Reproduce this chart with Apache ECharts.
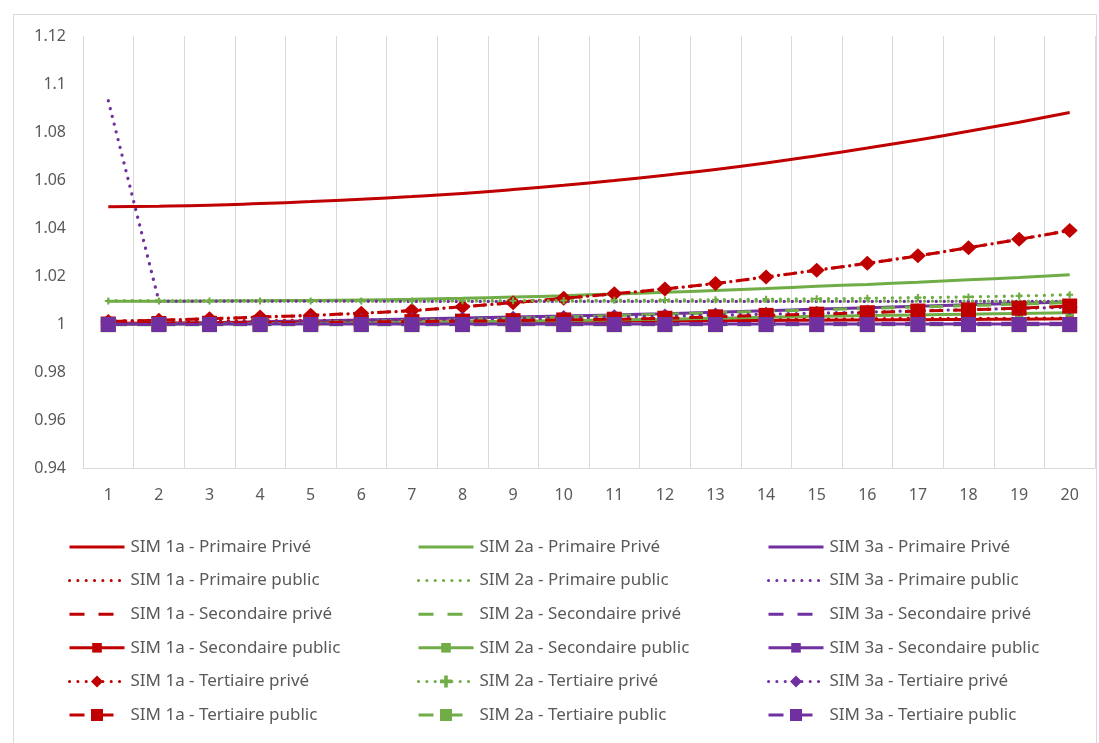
<!DOCTYPE html>
<html><head><meta charset="utf-8">
<script src="https://cdn.jsdelivr.net/npm/echarts@6/dist/echarts.min.js"></script>
<style>html,body{margin:0;padding:0;background:#fff}#c{width:1099px;height:743px}</style>
</head><body><div id="c"></div>
<script>
const categories = ['1','2','3','4','5','6','7','8','9','10','11','12','13','14','15','16','17','18','19','20'];
const yTicks = { min: 0.94, max: 1.12, interval: 0.02 };

// SIM 1a
const sim1aPrimPrive   = [1.0489,1.0491,1.0495,1.0502,1.0510,1.0520,1.0531,1.0544,1.0560,1.0578,1.0598,1.0620,1.0644,1.0671,1.0701,1.0733,1.0767,1.0803,1.0841,1.0881];
const sim1aPrimPublic  = [1.0012,1.0013,1.0013,1.0014,1.0015,1.0015,1.0016,1.0017,1.0017,1.0018,1.0019,1.0019,1.0020,1.0021,1.0021,1.0022,1.0023,1.0023,1.0024,1.0025];
const sim1aSecPrive    = [1.0010,1.0016,1.0022,1.0029,1.0036,1.0045,1.0056,1.0072,1.0089,1.0107,1.0126,1.0146,1.0169,1.0196,1.0224,1.0253,1.0284,1.0318,1.0353,1.0390];
const sim1aSecPublic   = [1.0003,1.0004,1.0005,1.0006,1.0006,1.0007,1.0008,1.0009,1.0010,1.0011,1.0012,1.0013,1.0014,1.0015,1.0016,1.0017,1.0018,1.0019,1.0020,1.0022];
const sim1aTertPrive   = [1.0010,1.0016,1.0022,1.0029,1.0036,1.0045,1.0056,1.0072,1.0089,1.0107,1.0126,1.0146,1.0169,1.0196,1.0224,1.0253,1.0284,1.0318,1.0353,1.0390];
const sim1aTertPublic  = [1.0000,1.0002,1.0003,1.0005,1.0006,1.0008,1.0010,1.0012,1.0014,1.0017,1.0020,1.0024,1.0030,1.0036,1.0041,1.0047,1.0054,1.0059,1.0066,1.0075];
// SIM 2a
const sim2aPrimPrive   = [1.0095,1.0095,1.0096,1.0097,1.0098,1.0100,1.0103,1.0107,1.0112,1.0118,1.0125,1.0132,1.0140,1.0148,1.0157,1.0165,1.0174,1.0184,1.0194,1.0205];
const sim2aPrimPublic  = [1.0096,1.0096,1.0096,1.0096,1.0096,1.0096,1.0096,1.0096,1.0095,1.0095,1.0095,1.0095,1.0095,1.0095,1.0095,1.0095,1.0095,1.0095,1.0095,1.0095];
const sim2aSecPrive    = [1.0000,1.0001,1.0003,1.0005,1.0008,1.0011,1.0015,1.0019,1.0024,1.0029,1.0035,1.0041,1.0047,1.0053,1.0059,1.0065,1.0071,1.0077,1.0083,1.0089];
const sim2aSecPublic   = [0.9999,1.0000,1.0001,1.0002,1.0003,1.0005,1.0007,1.0009,1.0011,1.0014,1.0017,1.0020,1.0024,1.0028,1.0032,1.0035,1.0038,1.0041,1.0044,1.0047];
const sim2aTertPrive   = [1.0096,1.0096,1.0096,1.0096,1.0096,1.0096,1.0096,1.0097,1.0097,1.0098,1.0099,1.0100,1.0101,1.0103,1.0105,1.0107,1.0110,1.0113,1.0117,1.0122];
const sim2aTertPublic  = [0.9997,0.9997,0.9997,0.9997,0.9997,0.9997,0.9997,0.9997,0.9997,0.9997,0.9997,0.9997,0.9997,0.9997,0.9997,0.9997,0.9997,0.9997,0.9997,0.9997];
// SIM 3a
const sim3aPrimPrive   = [0.9998,1.0002,1.0005,1.0009,1.0013,1.0017,1.0021,1.0025,1.0029,1.0033,1.0038,1.0043,1.0049,1.0055,1.0062,1.0068,1.0074,1.0080,1.0086,1.0092];
const sim3aPrimPublic  = [1.0930,1.0095,1.0095,1.0095,1.0095,1.0095,1.0094,1.0094,1.0094,1.0094,1.0094,1.0094,1.0094,1.0094,1.0094,1.0094,1.0094,1.0094,1.0094,1.0094];
const sim3aSecPrive    = [1.0003,1.0003,1.0003,1.0003,1.0003,1.0003,1.0003,1.0003,1.0003,1.0003,1.0003,1.0003,1.0003,1.0003,1.0003,1.0003,1.0003,1.0003,1.0003,1.0003];
const sim3aSecPublic   = [1.0000,1.0000,1.0000,1.0000,1.0000,1.0000,1.0000,1.0000,1.0000,1.0000,1.0000,1.0000,1.0000,1.0000,1.0000,1.0000,1.0000,1.0000,1.0000,1.0000];
const sim3aTertPrive   = [1.0000,1.0003,1.0006,1.0009,1.0012,1.0015,1.0018,1.0021,1.0024,1.0027,1.0030,1.0033,1.0037,1.0041,1.0045,1.0050,1.0055,1.0060,1.0065,1.0070];
const sim3aTertPublic  = [0.9998,0.9998,0.9998,0.9998,0.9998,0.9998,0.9998,0.9998,0.9998,0.9998,0.9998,0.9998,0.9998,0.9998,0.9998,0.9998,0.9998,0.9998,0.9998,0.9998];

const RED = '#C00000', GREEN = '#70AD47', PURPLE = '#7030A0';
const TXT = '#595959', GRID = '#d9d9d9', FONT = '"Noto Sans", sans-serif';

const PLUS = 'path://M3.5,0 h3 v3.5 h3.5 v3 h-3.5 v3.5 h-3 v-3.5 h-3.5 v-3 h3.5 z';
const SMALLSQ = 'path://M0,0 M12,12 M1.2,1.2 h9.6 v9.6 h-9.6 z';

const LINES = {
  solid:  { type: 'solid' },
  dotted: { type: [0.1, 7.9], cap: 'round', dashOffset: 0 },
  dashed: { type: [14, 10], cap: 'butt', dashOffset: 19 }
};

// [name, data, color, line kind, symbol, size]
const defs = [
  ['SIM 1a - Primaire Privé', sim1aPrimPrive, RED, 'solid', 'none', 0],
  ['SIM 2a - Primaire Privé', sim2aPrimPrive, GREEN, 'solid', 'none', 0],
  ['SIM 3a - Primaire Privé', sim3aPrimPrive, PURPLE, 'solid', 'none', 0],
  ['SIM 1a - Primaire public', sim1aPrimPublic, RED, 'dotted', 'none', 0],
  ['SIM 2a - Primaire public', sim2aPrimPublic, GREEN, 'dotted', 'none', 0],
  ['SIM 3a - Primaire public', sim3aPrimPublic, PURPLE, 'dotted', 'none', 0],
  ['SIM 1a - Secondaire privé', sim1aSecPrive, RED, 'dashed', 'none', 0],
  ['SIM 2a - Secondaire privé', sim2aSecPrive, GREEN, 'dashed', 'none', 0],
  ['SIM 3a - Secondaire privé', sim3aSecPrive, PURPLE, 'dashed', 'none', 0],
  ['SIM 1a - Secondaire public', sim1aSecPublic, RED, 'solid', SMALLSQ, 10],
  ['SIM 2a - Secondaire public', sim2aSecPublic, GREEN, 'solid', SMALLSQ, 10],
  ['SIM 3a - Secondaire public', sim3aSecPublic, PURPLE, 'solid', SMALLSQ, 10],
  ['SIM 1a - Tertiaire privé', sim1aTertPrive, RED, 'dotted', 'diamond', [16, 15]],
  ['SIM 2a - Tertiaire privé', sim2aTertPrive, GREEN, 'dotted', PLUS, 7],
  ['SIM 3a - Tertiaire privé', sim3aTertPrive, PURPLE, 'dotted', 'diamond', [16, 15]],
  ['SIM 1a - Tertiaire public', sim1aTertPublic, RED, 'dashed', 'rect', 15],
  ['SIM 2a - Tertiaire public', sim2aTertPublic, GREEN, 'dashed', 'rect', 15],
  ['SIM 3a - Tertiaire public', sim3aTertPublic, PURPLE, 'dashed', 'rect', 15]
];

const series = defs.map(d => ({
  name: d[0], type: 'line', data: d[1],
  smooth: d[1] === sim3aPrimPublic ? false : true,
  symbol: d[4], symbolSize: d[5], showSymbol: d[4] !== 'none', showAllSymbol: true,
  itemStyle: { color: d[2] },
  lineStyle: Object.assign({ color: d[2], width: d[3] === 'dotted' ? 3.3 : 3 }, LINES[d[3]]),
  emphasis: { disabled: true }
}));

function legendItem(d) {
  const it = { name: d[0] };
  if (d[4] === 'none') it.itemStyle = { opacity: 0 };
  if (d[3] === 'dashed') it.lineStyle = { type: [15, 14], dashOffset: 0 };
  if (d[3] === 'dotted') it.lineStyle = { type: [0.1, 8.23], dashOffset: 0, cap: 'round' };
  return it;
}
const colLefts = [68, 417, 767];
const legends = [0, 1, 2].map(c => ({
  orient: 'vertical', left: colLefts[c], top: 537, padding: 0,
  itemWidth: 55, itemHeight: 15, itemGap: 13.6, selectedMode: false,
  lineStyle: { width: 3 },
  textStyle: { color: TXT, fontSize: 17, fontFamily: FONT, lineHeight: 20, padding: [0, 0, 0, 1] },
  data: defs.filter((d, i) => i % 3 === c).map(legendItem)
}));

const chart = echarts.init(document.getElementById('c'), null, { renderer: 'canvas' });
chart.setOption({
  animation: false,
  backgroundColor: '#fff',
  graphic: [{ type: 'rect', shape: { x: 13.5, y: 14.5, width: 1083, height: 740 }, style: { fill: 'none', stroke: GRID, lineWidth: 1 }, silent: true, z: -1 }],
  grid: { left: 83, right: 4, top: 36, bottom: 275 },
  legend: legends,
  xAxis: {
    type: 'category', data: categories, boundaryGap: true,
    axisLine: { show: true, lineStyle: { color: GRID, width: 1 } },
    axisTick: { show: false },
    splitLine: { show: true, lineStyle: { color: GRID, width: 1 } },
    axisLabel: { color: TXT, fontSize: 16, fontFamily: FONT, margin: 19, interval: 0 }
  },
  yAxis: {
    type: 'value', min: yTicks.min, max: yTicks.max, interval: yTicks.interval,
    axisLine: { show: false }, axisTick: { show: false }, splitLine: { show: false },
    axisLabel: { color: TXT, fontSize: 16, fontFamily: FONT, margin: 17 }
  },
  series: series
});
</script></body></html>
